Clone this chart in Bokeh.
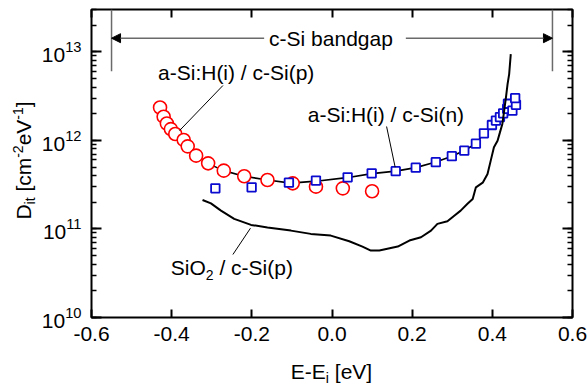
import math
from bokeh.plotting import figure
from bokeh.layouts import row, column
from bokeh.models import (Range1d, LogAxis, LinearAxis, FixedTicker, LogTicker,
                          Label, Arrow, NormalHead, PrintfTickFormatter,
                          CustomJSTickFormatter)
from bokeh.embed import file_html
from bokeh.resources import INLINE

# ---------------- data ----------------
# a-Si:H(i) / c-Si(p)  (red circles)
p_E = [-0.429, -0.420, -0.412, -0.402, -0.391, -0.370, -0.360, -0.339, -0.309,
       -0.270, -0.219, -0.161, -0.098, -0.040, 0.027, 0.100]
p_Dit = [2.35e12, 1.85e12, 1.55e12, 1.34e12, 1.18e12, 1.01e12, 8.55e11, 6.72e11,
         5.50e11, 4.55e11, 3.93e11, 3.57e11, 3.27e11, 3.00e11, 2.87e11, 2.66e11]

# a-Si:H(i) / c-Si(n)  (blue squares)
n_E = [-0.291, -0.2005, -0.1075, -0.040, 0.039, 0.099, 0.159, 0.209, 0.259, 0.299,
       0.330, 0.359, 0.379, 0.399, 0.409, 0.419, 0.427, 0.437, 0.439, 0.450, 0.459, 0.457]
n_Dit = [2.87e11, 2.95e11, 3.33e11, 3.51e11, 3.82e11, 4.24e11, 4.49e11, 4.92e11,
         5.67e11, 6.63e11, 7.64e11, 9.16e11, 1.20e12, 1.49e12, 1.67e12, 1.83e12,
         2.02e12, 2.27e12, 2.59e12, 2.16e12, 2.52e12, 2.99e12]

# fitted curve through both a-Si:H/c-Si data sets
fit_E = [-0.429, -0.412, -0.392, -0.371, -0.339, -0.309, -0.270, -0.220, -0.161,
         -0.1025, -0.040, 0.037, 0.0995, 0.159, 0.209, 0.259, 0.299, 0.329, 0.359,
         0.379, 0.399, 0.419, 0.439]
fit_Dit = [2.33e12, 1.55e12, 1.17e12, 1.00e12, 6.71e11, 5.46e11, 4.55e11, 3.94e11,
           3.56e11, 3.29e11, 3.46e11, 3.79e11, 4.21e11, 4.49e11, 4.92e11, 5.68e11,
           6.63e11, 7.64e11, 9.16e11, 1.20e12, 1.49e12, 1.82e12, 2.40e12]

# SiO2 / c-Si(p)  (black line)
sio2_E = [-0.323, -0.302, -0.277, -0.244, -0.202, -0.161, -0.1025, -0.053, -0.003,
          0.043, 0.076, 0.097, 0.118, 0.164, 0.193, 0.222, 0.247, 0.263, 0.288,
          0.305, 0.321, 0.338, 0.351, 0.359, 0.376, 0.388, 0.396, 0.404, 0.413,
          0.419, 0.425, 0.429, 0.434, 0.438, 0.442, 0.446]
sio2_Dit = [2.12e11, 1.94e11, 1.61e11, 1.30e11, 1.11e11, 1.04e11, 9.57e10, 8.79e10,
            8.41e10, 7.25e10, 6.32e10, 5.70e10, 5.70e10, 6.32e10, 7.39e10, 8.05e10,
            9.57e10, 1.14e11, 1.22e11, 1.41e11, 1.61e11, 1.92e11, 2.18e11, 2.95e11,
            3.33e11, 4.18e11, 5.90e11, 8.34e11, 9.91e11, 1.23e12, 1.53e12, 2.07e12,
            3.05e12, 4.32e12, 5.60e12, 9.40e12]

x_ticks = [-0.6, -0.4, -0.2, 0.0, 0.2, 0.4, 0.6]
bandgap = 0.55

# ---------------- layout geometry ----------------
FONT = "Liberation Sans"
MID = 0.3465       # em-box middle above the baseline for Liberation Sans
W, H = 587, 385
LW = 38            # width of the strip holding the y-axis title
MH = 355           # height of the main figure
XMIN, XMAX = -0.6, 0.6
YMIN, YMAX = 1e10, 3e13
FL, FR, FT, FB = 90, 572, 9, 317  # frame in page pixels


def noalign(f):
    try:
        f.frame_align = False
    except Exception:
        pass


p = figure(width=W - LW, height=MH, output_backend="svg", toolbar_location=None,
           y_axis_type="log", x_range=Range1d(XMIN, XMAX), y_range=Range1d(YMIN, YMAX),
           min_border_left=FL - LW, min_border_right=W - FR, min_border_top=FT,
           min_border_bottom=MH - FB)
noalign(p)
p.background_fill_color = "white"
p.border_fill_color = "white"
p.outline_line_color = "black"
p.outline_line_width = 2
p.grid.visible = False


def ax(px):
    return XMIN + (px - FL) / (FR - FL) * (XMAX - XMIN)


def ay(py):
    lo, hi = math.log10(YMIN), math.log10(YMAX)
    return 10 ** (lo + (FB - py) / (FB - FT) * (hi - lo))


# axes styling
xa = p.xaxis[0]
xa.ticker = FixedTicker(ticks=x_ticks)
xa.formatter = PrintfTickFormatter(format="%.1f")
ya = p.yaxis[0]
ya.ticker = LogTicker(num_minor_ticks=10)
for a in (xa, ya):
    a.axis_line_color = None
    a.major_tick_out = 0
    a.minor_tick_out = 0
    a.major_label_text_font = FONT
    a.major_label_text_font_size = "21px"
    a.major_label_text_color = "black"
    a.major_tick_line_color = "black"
    a.major_tick_line_width = 2
    a.minor_tick_line_width = 1.5
xa.major_tick_in = 8
xa.minor_tick_line_color = None
xa.major_label_standoff = 9
ya.major_tick_in = 10
ya.minor_tick_in = 5
ya.minor_tick_line_color = "black"
ya.major_label_standoff = 10

blank = CustomJSTickFormatter(code="return ''")
top = LinearAxis(ticker=FixedTicker(ticks=x_ticks), formatter=blank,
                 axis_line_color=None, major_tick_in=8, major_tick_out=0,
                 minor_tick_line_color=None, major_tick_line_width=2,
                 major_label_standoff=0)
right = LogAxis(ticker=LogTicker(num_minor_ticks=10), formatter=blank,
                axis_line_color=None, major_tick_in=10, major_tick_out=0,
                minor_tick_in=5, minor_tick_out=0, major_tick_line_width=2,
                minor_tick_line_width=1.5, major_label_standoff=0)
p.add_layout(top, "above")
p.add_layout(right, "right")

# ---------------- marks ----------------
p.line(fit_E, fit_Dit, line_color="black", line_width=1.6)
p.scatter(p_E, p_Dit, marker="circle", size=13, fill_color="white",
          line_color="#ff0000", line_width=1.6)
p.scatter(n_E, n_Dit, marker="square", size=8.5, fill_color="white",
          line_color="#0b0bd0", line_width=1.8)
p.line(sio2_E, sio2_Dit, line_color="black", line_width=2)

# ---------------- annotations ----------------
GRAY = "#6a6a6a"
p.segment(x0=[-bandgap, bandgap], y0=[ay(70.7)] * 2, x1=[-bandgap, bandgap],
          y1=[YMAX] * 2, line_color=GRAY, line_width=1.5)
for xs, xe in ((ax(263), -bandgap), (ax(405), bandgap)):
    p.add_layout(Arrow(end=NormalHead(size=9, fill_color="black", line_color="black"),
                       x_start=xs, y_start=ay(37.7), x_end=xe, y_end=ay(37.7),
                       line_color=GRAY, line_width=1.5))


def lab(fig, x, y, text, align="left", size=21, vertical=False, **kw):
    """(x, y) is the point on the text baseline; the label is anchored at the
    em-box middle, shifted from the baseline by screen-pixel offsets."""
    m = MID * size
    if vertical:
        off = dict(x_offset=-m, y_offset=0, angle=math.pi / 2)
    else:
        off = dict(x_offset=0, y_offset=m)
    fig.add_layout(Label(x=x, y=y, text=text, text_font=FONT,
                         text_font_size=f"{size}px", text_align=align,
                         text_baseline="middle", text_color="black", **off, **kw))


lab(p, ax(330), ay(45), "c-Si bandgap", align="center")
lab(p, ax(235), ay(79.3), "a-Si:H(i) / c-Si(p)", align="center")
lab(p, ax(385), ay(121), "a-Si:H(i) / c-Si(n)", align="center")

# leader lines
p.segment(x0=[ax(221.7), ax(385.7), ax(231.7)], y0=[ay(85), ay(126), ay(254)],
          x1=[ax(178.3), ax(394.3), ax(249.3)], y1=[ay(130), ay(166.7), ay(227.7)],
          line_color="black", line_width=1)

# rich text helper (sub/superscripts)
WID = {' ': 278, '(': 333, ')': 333, '-': 333, '.': 278, '/': 278, ':': 278,
       '[': 278, ']': 278, '0': 556, '1': 556, '2': 556, 'A': 667, 'D': 722,
       'E': 667, 'H': 722, 'O': 778, 'S': 667, 'V': 667, 'a': 556, 'b': 556,
       'c': 500, 'd': 556, 'e': 556, 'g': 556, 'i': 222, 'm': 833, 'n': 556,
       'p': 556, 't': 278}


def tw(s, size):
    return sum(WID[c] for c in s) * size / 1000.0


def rich(fig, x, y, segs, vertical=False, **kw):
    """x, y in pixel-like units of fig (frame-relative, y up)."""
    adv = 0.0
    for text, size, shift in segs:
        stripped = text.lstrip(" ")
        adv += tw(text[:len(text) - len(stripped)], size)
        if vertical:
            lab(fig, x - shift, y + adv, stripped, size=size, vertical=True, **kw)
        else:
            lab(fig, x + adv, y + shift, stripped, size=size, **kw)
        adv += tw(stripped, size)


SUB, SUP, SMALL = -5, 8, 14

# SiO2 label inside the frame (screen units relative to the frame)
rich(p, 169.3 - FL, FB - 274.3,
     [("SiO", 21, 0), ("2", SMALL, SUB), (" / c-Si(p)", 21, 0)],
     x_units="screen", y_units="screen")


def strip(w, h, bl, br, bt, bb):
    """A bare figure whose frame coordinates are plain pixels."""
    f = figure(width=w, height=h, output_backend="svg", toolbar_location=None,
               x_range=Range1d(0, w - bl - br), y_range=Range1d(0, h - bt - bb),
               min_border_left=bl, min_border_right=br, min_border_top=bt,
               min_border_bottom=bb, x_axis_location=None, y_axis_location=None)
    noalign(f)
    f.outline_line_color = None
    f.background_fill_color = "white"
    f.border_fill_color = "white"
    f.grid.visible = False
    return f


# y-axis title strip (left); frame spans page rows FT..FB
left = strip(LW, H, 0, 0, FT, H - FB)
yl = [("D", 21, 0), ("it", SMALL, -4), (" [cm", 21, 0), ("-2", SMALL, SUP),
      ("eV", 21, 0), ("-1", SMALL, SUP), ("]", 21, 0)]
yw = sum(tw(t, s) for t, s, _ in yl)
rich(left, 30.5, (FB - 160) - yw / 2, yl, vertical=True)

# x-axis title strip (bottom); frame spans page columns FL..FR
bottom = strip(W - LW, H - MH, FL - LW, W - FR, 0, 0)
xl = [("E-E", 21, 0), ("i", SMALL, -4), (" [eV]", 21, 0)]
xw = sum(tw(t, s) for t, s, _ in xl)
rich(bottom, (FR - FL) / 2 - xw / 2, H - 378, xl)

layout = row(left, column(p, bottom, spacing=0), spacing=0)
open("out.html", "w").write(file_html(layout, INLINE))
